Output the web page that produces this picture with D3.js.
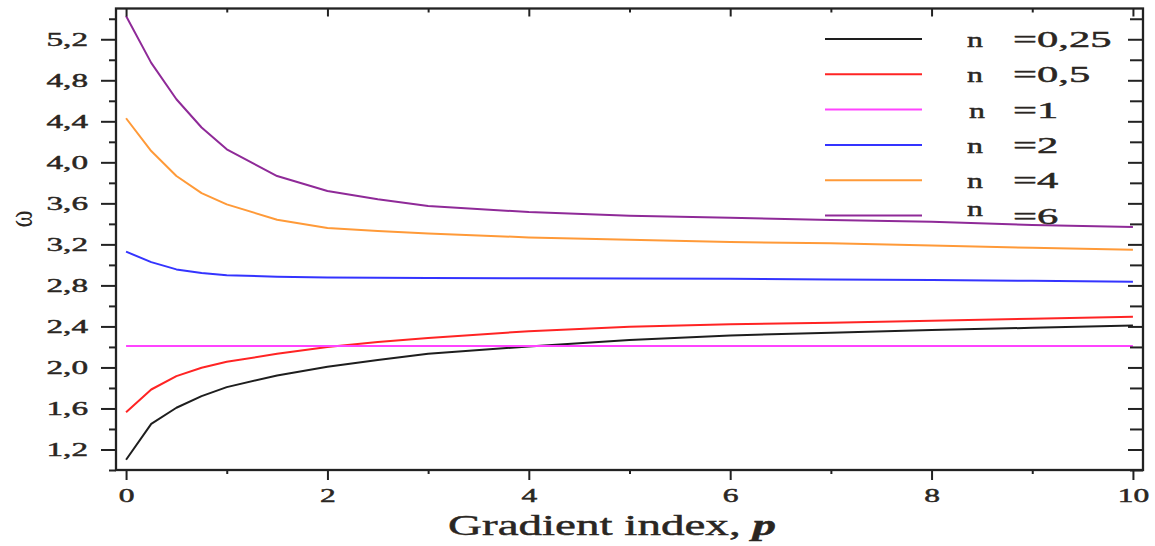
<!DOCTYPE html>
<html>
<head>
<meta charset="utf-8">
<script src="https://cdn.jsdelivr.net/npm/d3@7"></script>
<style>
  html, body { margin: 0; padding: 0; background: #fff; }
  svg { display: block; }
  text { font-family: "Liberation Serif", "Times New Roman", serif; fill: #2a2622; }
  .heavy { stroke: #2a2622; stroke-width: 0.45px; }
</style>
</head>
<body>
<script>
// Gradient index p
const pValues = [0, 0.25, 0.5, 0.75, 1, 1.5, 2, 2.5, 3, 4, 5, 6, 7, 8, 9, 10];

// Frequency ω for each n
const omegaN025 = [1.10, 1.45, 1.607, 1.72, 1.808, 1.922, 2.007, 2.072, 2.133, 2.205, 2.268, 2.312, 2.338, 2.364, 2.387, 2.41];
const omegaN05  = [1.564, 1.785, 1.915, 1.997, 2.055, 2.133, 2.20, 2.248, 2.286, 2.354, 2.397, 2.42, 2.436, 2.455, 2.475, 2.495];
const omegaN1   = [2.21, 2.21, 2.21, 2.21, 2.21, 2.21, 2.21, 2.21, 2.21, 2.21, 2.21, 2.21, 2.21, 2.21, 2.21, 2.21];
const omegaN2   = [3.129, 3.027, 2.956, 2.92, 2.90, 2.885, 2.878, 2.875, 2.873, 2.87, 2.868, 2.864, 2.858, 2.852, 2.845, 2.836];
const omegaN4   = [4.43, 4.11, 3.867, 3.70, 3.59, 3.44, 3.36, 3.33, 3.307, 3.268, 3.245, 3.222, 3.21, 3.19, 3.167, 3.148];
const omegaN6   = [5.427, 4.97, 4.615, 4.34, 4.127, 3.866, 3.72, 3.64, 3.574, 3.515, 3.48, 3.46, 3.437, 3.42, 3.39, 3.37];

const seriesLabels = ["=0,25", "=0,5", "=1", "=2", "=4", "=6"];
const seriesValues = [omegaN025, omegaN05, omegaN1, omegaN2, omegaN4, omegaN6];
const seriesColors = ["#1e1e1e", "#ff2424", "#ff44ff", "#3434ff", "#ff9a38", "#8f2a98"];

// Axis ticks
const xMajorTicks = [0, 2, 4, 6, 8, 10];
const xMinorTicks = [1, 3, 5, 7, 9];
const yMajorTicks = [1.2, 1.6, 2.0, 2.4, 2.8, 3.2, 3.6, 4.0, 4.4, 4.8, 5.2];
const yMinorTicks = [1.0, 1.4, 1.8, 2.2, 2.6, 3.0, 3.4, 3.8, 4.2, 4.6, 5.0, 5.4];

const W = 1155, H = 546;
const box = { left: 116, right: 1143, top: 8.5, bottom: 470 };
const stretch = 1.75;   // wide glyph proportions of the figure's lettering

const svg = d3.select("body").append("svg").attr("width", W).attr("height", H);
svg.append("rect").attr("width", W).attr("height", H).attr("fill", "#fff");

const x = d3.scaleLinear().domain([-0.1, 10.1]).range([box.left, box.right]);
const y = d3.scaleLinear().domain([1.0, 5.5]).range([box.bottom, box.top]);

// Curves
const line = d3.line().x(d => x(d[0])).y(d => y(d[1]));
seriesValues.forEach((vals, i) => {
  svg.append("path")
    .datum(pValues.map((p, k) => [p, vals[k]]))
    .attr("d", line)
    .attr("fill", "none")
    .attr("stroke", seriesColors[i])
    .attr("stroke-width", 2)
    .attr("stroke-linejoin", "round");
});

// Legend
const legY0 = 39, legStep = 35.3;
seriesLabels.forEach((lab, i) => {
  const ly = legY0 + legStep * i;
  svg.append("line")
    .attr("x1", 825).attr("x2", 922).attr("y1", ly).attr("y2", ly)
    .attr("stroke", seriesColors[i]).attr("stroke-width", 2);
  const nBase = i === seriesLabels.length - 1 ? ly : ly + 8;
  svg.append("text")
    .attr("class", "heavy")
    .attr("transform", `translate(${i === 2 ? 969 : 967},${nBase}) scale(1.45,1)`)
    .attr("font-size", 22)
    .text("n");
  svg.append("text")
    .attr("class", "heavy")
    .attr("transform", `translate(1013,${ly + 8}) scale(1.85,1)`)
    .attr("font-size", 23)
    .text(lab);
});

// Axes
const fmt = d => d3.format(".1f")(d).replace(".", ",");
const axisStyle = g => {
  g.select(".domain").remove();
  g.selectAll(".tick line").attr("stroke", "#222").attr("stroke-width", 2);
};

// left: outward ticks with labels
svg.append("g").attr("transform", `translate(${box.left},0)`)
  .call(d3.axisLeft(y).tickValues(yMinorTicks).tickSize(7).tickFormat(""))
  .call(axisStyle);
const gl = svg.append("g").attr("transform", `translate(${box.left},0)`)
  .call(d3.axisLeft(y).tickValues(yMajorTicks).tickSize(15).tickFormat(fmt))
  .call(axisStyle);
gl.selectAll(".tick text")
  .attr("class", "heavy")
  .attr("x", 0).attr("dy", "0.34em")
  .attr("transform", `translate(-28,0) scale(${stretch},1)`)
  .attr("font-size", 19)
  .attr("font-family", null).attr("fill", null);

// bottom: outward ticks with labels
svg.append("g").attr("transform", `translate(0,${box.bottom})`)
  .call(d3.axisBottom(x).tickValues(xMinorTicks).tickSize(4).tickFormat(""))
  .call(axisStyle);
const gb = svg.append("g").attr("transform", `translate(0,${box.bottom})`)
  .call(d3.axisBottom(x).tickValues(xMajorTicks).tickSize(10).tickFormat(d3.format("d")))
  .call(axisStyle);
gb.selectAll(".tick text")
  .attr("class", "heavy")
  .attr("y", 0).attr("dy", 0)
  .attr("transform", `translate(0,32) scale(${stretch},1)`)
  .attr("font-size", 18)
  .attr("font-family", null).attr("fill", null);

// top: inward ticks
svg.append("g").attr("transform", `translate(0,${box.top})`)
  .call(d3.axisTop(x).tickValues(xMinorTicks).tickSize(-4).tickFormat(""))
  .call(axisStyle);
svg.append("g").attr("transform", `translate(0,${box.top})`)
  .call(d3.axisTop(x).tickValues(xMajorTicks).tickSize(-8).tickFormat(""))
  .call(axisStyle);

// right: inward ticks
svg.append("g").attr("transform", `translate(${box.right},0)`)
  .call(d3.axisRight(y).tickValues(yMinorTicks).tickSize(-13).tickFormat(""))
  .call(axisStyle);
svg.append("g").attr("transform", `translate(${box.right},0)`)
  .call(d3.axisRight(y).tickValues(yMajorTicks).tickSize(-15).tickFormat(""))
  .call(axisStyle);

// Frame
svg.append("rect")
  .attr("x", box.left).attr("y", box.top)
  .attr("width", box.right - box.left).attr("height", box.bottom - box.top)
  .attr("fill", "none").attr("stroke", "#222").attr("stroke-width", 2.3);

// Axis titles
const xt = svg.append("text").attr("font-size", 30).attr("class", "heavy");
xt.append("tspan").text("Gradient index, ");
xt.append("tspan").attr("font-weight", "bold").attr("font-style", "italic").text("p");
const natural = xt.node().getComputedTextLength();
xt.attr("transform", `translate(448,535) scale(${328 / natural},1)`);

svg.append("text")
  .attr("transform", `translate(21,219) scale(1.3,1) rotate(-90)`)
  .attr("text-anchor", "middle")
  .attr("dominant-baseline", "central")
  .attr("font-size", 26)
  .text("ω");
</script>
</body>
</html>
